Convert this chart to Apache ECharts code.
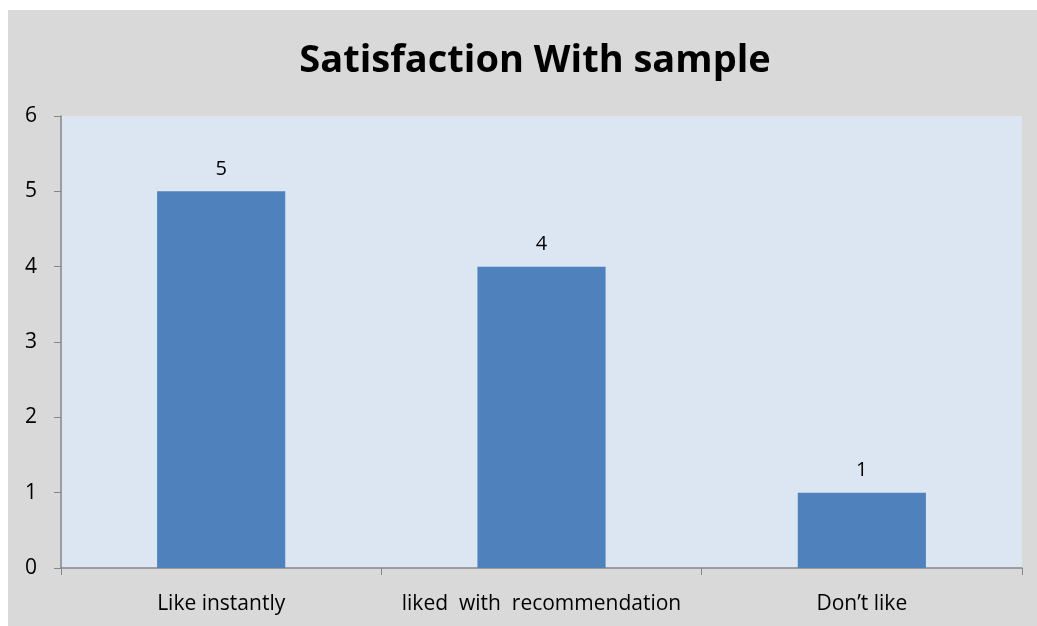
<!DOCTYPE html>
<html>
<head>
<meta charset="utf-8">
<script src="https://cdn.jsdelivr.net/npm/echarts@6/dist/echarts.min.js"></script>
<style>html,body{margin:0;padding:0;background:#fff}#c{width:1037px;height:626px}</style>
</head>
<body>
<div id="c"></div>
<script>
var categories = ['Like instantly', 'liked  with  recommendation', 'Don\u2019t like'];
var values = [5, 4, 1];
var yTicks = [0, 1, 2, 3, 4, 5, 6];

var chart = echarts.init(document.getElementById('c'), null, {renderer: 'canvas'});
chart.setOption({
  backgroundColor: '#ffffff',
  animation: false,
  graphic: [{
    type: 'rect', z: -10, silent: true,
    shape: {x: 8, y: 10, width: 1029, height: 616},
    style: {fill: '#d9d9d9'}
  }],
  title: {
    text: 'Satisfaction With sample',
    left: 530, top: 37, textAlign: 'center',
    textStyle: {fontFamily: 'Open Sans', fontWeight: 'bold', fontSize: 38, color: '#000'}
  },
  grid: {left: 61, top: 116, right: 15, bottom: 58, show: true, backgroundColor: '#dce6f2', borderWidth: 0},
  xAxis: {
    type: 'category', data: categories,
    axisLine: {lineStyle: {color: '#868686', width: 1.5}},
    axisTick: {show: true, length: 7, interval: 0, alignWithLabel: false, lineStyle: {color: '#868686'}},
    axisLabel: {color: '#000', fontFamily: 'Open Sans', fontSize: 21, margin: 26, interval: 0, hideOverlap: false}
  },
  yAxis: {
    type: 'value', min: 0, max: 6, interval: 1,
    axisLine: {show: true, lineStyle: {color: '#868686', width: 1.5}},
    axisTick: {show: true, length: 7, lineStyle: {color: '#868686'}},
    splitLine: {show: false},
    axisLabel: {color: '#000', fontFamily: 'Open Sans', fontSize: 21, margin: 24,
      formatter: function(v){ return yTicks.indexOf(v) >= 0 ? String(v) : ''; }}
  },
  series: [{
    type: 'bar', data: values, barWidth: '40%',
    itemStyle: {color: '#4f81bd'},
    label: {show: true, position: 'top', distance: 12, color: '#000', fontFamily: 'Open Sans', fontSize: 20}
  }]
});
</script>
</body>
</html>
